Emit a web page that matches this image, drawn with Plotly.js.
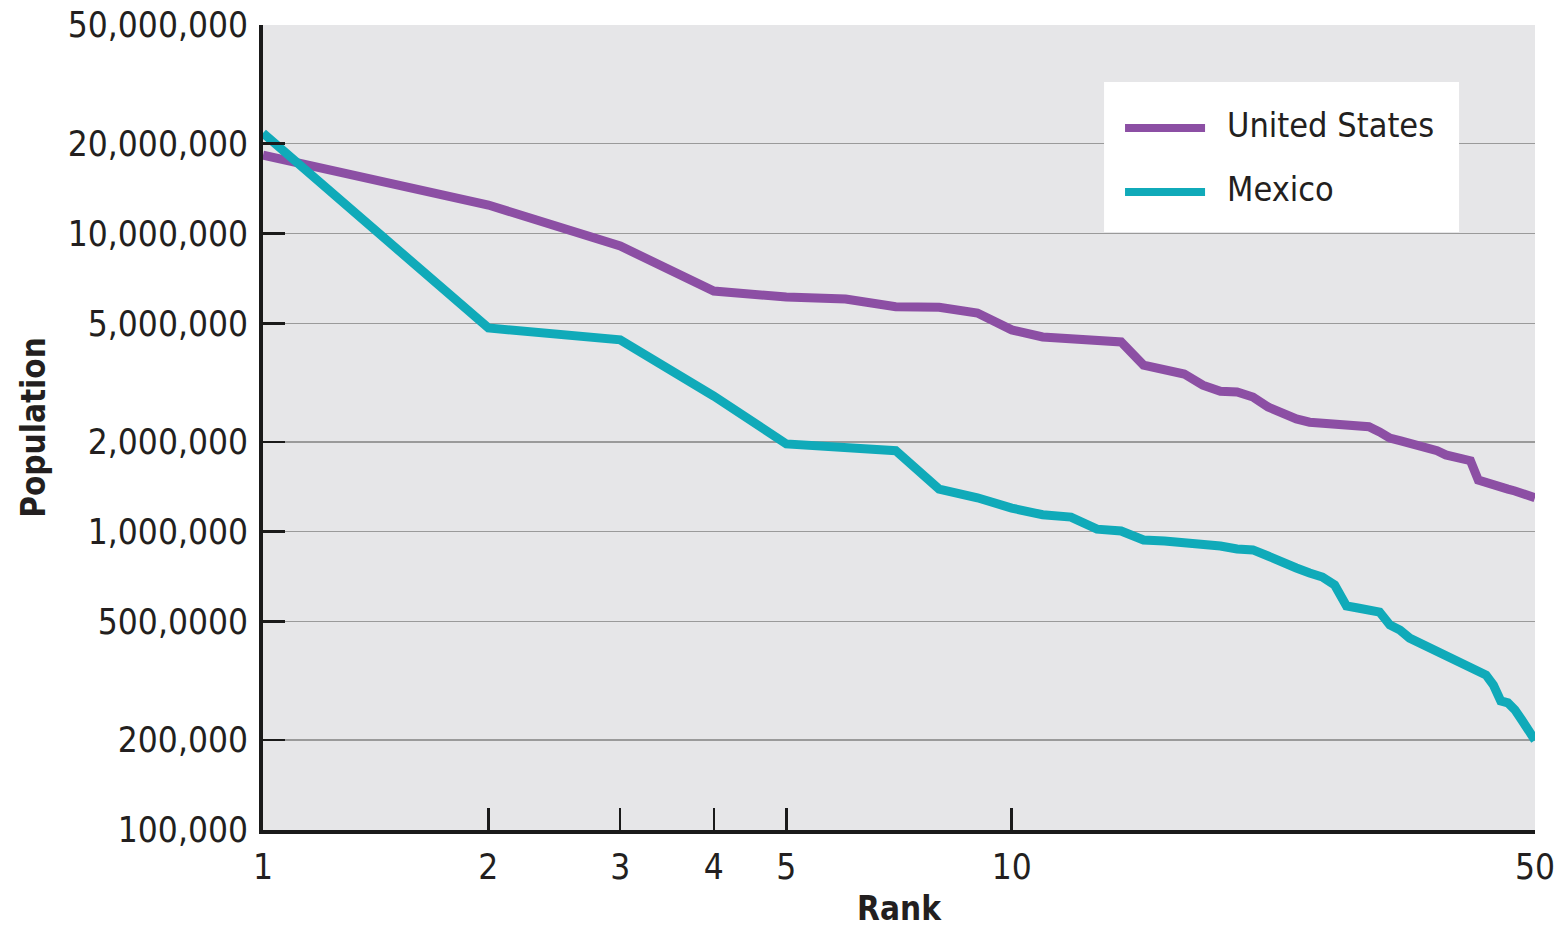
<!DOCTYPE html>
<html>
<head>
<meta charset="utf-8">
<script src="https://cdn.plot.ly/plotly-3.0.1.min.js"></script>
<style>
  html, body { margin: 0; padding: 0; background: #ffffff; }
  #chart { width: 1565px; height: 928px; }
</style>
</head>
<body>
<div id="chart"></div>
<script>
// ---- Data ----
const ranks = [1, 2, 3, 4, 5, 6, 7, 8, 9, 10,
  11, 12, 13, 14, 15, 16, 17, 18, 19, 20,
  21, 22, 23, 24, 25, 26, 27, 28, 29, 30,
  31, 32, 33, 34, 35, 36, 37, 38, 39, 40,
  41, 42, 43, 44, 45, 46, 47, 48, 49, 50];

const usPopulation = [18300000, 12460000, 9080000, 6410000, 6120000, 6030000, 5680000, 5660000, 5410000, 4750000,
  4500000, 4430000, 4360000, 4330000, 3620000, 3510000, 3380000, 3100000, 2960000, 2940000,
  2830000, 2620000, 2480000, 2390000, 2330000, 2310000, 2300000, 2295000, 2280000, 2250000,
  2160000, 2060000, 2020000, 1980000, 1950000, 1910000, 1870000, 1810000, 1780000, 1750000,
  1730000, 1490000, 1470000, 1450000, 1410000, 1390000, 1370000, 1340000, 1320000, 1300000];

const mexicoPopulation = [21700000, 4820000, 4400000, 2850000, 1970000, 1920000, 1870000, 1390000, 1300000, 1200000,
  1140000, 1120000, 1020000, 1006000, 938000, 931000, 924000, 917000, 896000, 875000,
  869000, 829000, 786000, 756000, 727000, 705000, 663000, 564000, 555000, 551000,
  538000, 487000, 468000, 440000, 424000, 411000, 398000, 386000, 374000, 357000,
  349000, 341000, 331000, 306000, 271000, 267000, 253000, 234000, 216000, 200000];

const seriesNames = ["United States", "Mexico"];
const seriesColors = ["#8c4fa4", "#10aab9"];

const xTickVals = [1, 2, 3, 4, 5, 10, 50];
const xTickText = ["1", "2", "3", "4", "5", "10", "50"];
const yTickVals = [100000, 200000, 500000, 1000000, 2000000, 5000000, 10000000, 20000000, 50000000];
const yTickText = ["100,000", "200,000", "500,0000", "1,000,000", "2,000,000", "5,000,000", "10,000,000", "20,000,000", "50,000,000"];

const xTitle = "Rank";
const yTitle = "Population";

// ---- Styling ----
const FONT = "'Liberation Sans Narrow', 'DejaVu Sans Condensed', 'Roboto', sans-serif";
const TEXT_COLOR = "#231f20";

const traces = [usPopulation, mexicoPopulation].map((vals, i) => ({
  type: "scatter",
  mode: "lines",
  x: ranks,
  y: vals,
  name: seriesNames[i],
  line: { color: seriesColors[i], width: 9, shape: "linear" },
  showlegend: false,
  hoverinfo: "x+y+name"
}));

// custom legend (box, line samples, labels) in paper coordinates
const legendBox = { x0: 0.6612, x1: 0.9403, y0: 0.7429, y1: 0.9292 };
const legendRows = [0.8720, 0.7925];
const shapes = [
  { type: "rect", xref: "paper", yref: "paper", layer: "above",
    x0: legendBox.x0, x1: legendBox.x1, y0: legendBox.y0, y1: legendBox.y1,
    fillcolor: "#ffffff", line: { width: 0 } }
];
const annotations = [];
seriesNames.forEach((name, i) => {
  shapes.push({ type: "line", xref: "paper", yref: "paper", layer: "above",
    x0: 0.6777, x1: 0.7406, y0: legendRows[i], y1: legendRows[i],
    line: { color: seriesColors[i], width: 8 } });
  annotations.push({ xref: "paper", yref: "paper", x: 0.7563, y: legendRows[i] + 0.004,
    xanchor: "left", yanchor: "middle", showarrow: false, text: name,
    font: { family: FONT, size: 34, color: TEXT_COLOR } });
});

const layout = {
  width: 1565,
  height: 928,
  margin: { l: 263, r: 30, t: 25, b: 98 },
  paper_bgcolor: "#ffffff",
  plot_bgcolor: "#e6e6e8",
  font: { family: FONT, color: TEXT_COLOR, size: 35 },
  showlegend: false,
  xaxis: {
    type: "log",
    range: [0, Math.log10(50)],
    tickvals: xTickVals,
    ticktext: xTickText,
    ticks: "inside",
    ticklen: 22,
    tickwidth: 2.5,
    tickcolor: "#1a1a1a",
    showgrid: false,
    zeroline: false,
    showline: true,
    linecolor: "#1a1a1a",
    linewidth: 4,
    tickfont: { family: FONT, size: 35, color: TEXT_COLOR },
    ticklabelstandoff: 3,
    title: { text: xTitle, font: { family: FONT, size: 33, color: TEXT_COLOR, weight: "bold" }, standoff: 12 },
    automargin: false,
    fixedrange: true
  },
  yaxis: {
    type: "log",
    range: [5, Math.log10(50000000)],
    tickvals: yTickVals,
    ticktext: yTickText,
    ticks: "inside",
    ticklen: 22,
    tickwidth: 2.5,
    tickcolor: "#1a1a1a",
    showgrid: true,
    gridcolor: "#9a9a9a",
    gridwidth: 1.5,
    zeroline: false,
    showline: true,
    linecolor: "#1a1a1a",
    linewidth: 4,
    tickfont: { family: FONT, size: 35, color: TEXT_COLOR },
    ticklabelstandoff: 4,
    title: { text: yTitle, font: { family: FONT, size: 33, color: TEXT_COLOR, weight: "bold" }, standoff: 13 },
    automargin: false,
    fixedrange: true
  },
  shapes: shapes,
  annotations: annotations
};

Plotly.newPlot("chart", traces, layout, { displayModeBar: false, staticPlot: true });
</script>
</body>
</html>
